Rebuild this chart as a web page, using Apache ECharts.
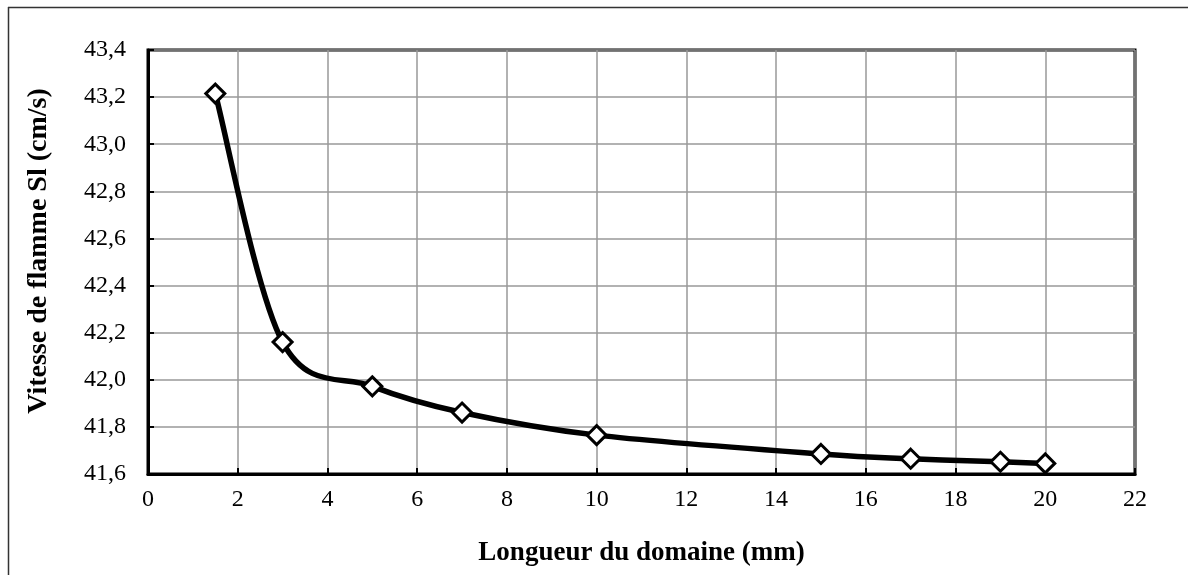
<!DOCTYPE html>
<html>
<head>
<meta charset="utf-8">
<script src="https://cdn.jsdelivr.net/npm/echarts@6/dist/echarts.min.js"></script>
<style>
  html, body { margin: 0; padding: 0; background: #fff; }
  #chart { width: 1188px; height: 575px; }
</style>
</head>
<body>
<div id="chart"></div>
<script>
// Domain length (mm) and laminar flame speed Sl (cm/s)
const longueurs = [1.5, 3, 5, 7, 10, 15, 17, 19, 20];
const vitesses = [43.215, 42.16, 41.972, 41.861, 41.765, 41.685, 41.665, 41.652, 41.645];

const xTitle = 'Longueur du domaine (mm)';
const yTitle = 'Vitesse de flamme Sl (cm/s)';

const serif = '"Liberation Serif", "Times New Roman", serif';
const fmt = v => v.toFixed(1).replace('.', ',');
const points = longueurs.map((x, i) => [x, vitesses[i]]);

// Smoothed curve through the points: cubic Bezier segments whose control
// points follow the neighbouring points (Catmull-Rom, factor 1/6), in pixels.
function renderCurve(params, api) {
  if (params.dataIndex !== 0) return;
  const p = points.map(d => api.coord(d));
  const n = p.length;
  let d = 'M' + p[0][0] + ' ' + p[0][1];
  for (let i = 0; i < n - 1; i++) {
    const p0 = p[Math.max(i - 1, 0)];
    const p1 = p[i];
    const p2 = p[i + 1];
    const p3 = p[Math.min(i + 2, n - 1)];
    const c1x = p1[0] + (p2[0] - p0[0]) / 6;
    const c1y = p1[1] + (p2[1] - p0[1]) / 6;
    const c2x = p2[0] - (p3[0] - p1[0]) / 6;
    const c2y = p2[1] - (p3[1] - p1[1]) / 6;
    d += ' C' + c1x + ' ' + c1y + ' ' + c2x + ' ' + c2y + ' ' + p2[0] + ' ' + p2[1];
  }
  return {
    type: 'path',
    shape: { pathData: d },
    style: { fill: 'none', stroke: '#000', lineWidth: 5.5, lineJoin: 'round', lineCap: 'round' }
  };
}

const chart = echarts.init(document.getElementById('chart'));
chart.setOption({
  animation: false,
  backgroundColor: '#fff',
  graphic: [
    { type: 'line', shape: { x1: 8, y1: 7.5, x2: 1188, y2: 7.5 }, style: { stroke: '#333', lineWidth: 1.5 } },
    { type: 'line', shape: { x1: 8.5, y1: 7, x2: 8.5, y2: 575 }, style: { stroke: '#333', lineWidth: 1.5 } }
  ],
  grid: {
    left: 148, right: 53, top: 50, bottom: 101,
    show: true, borderColor: '#000', borderWidth: 3, backgroundColor: 'transparent'
  },
  xAxis: {
    type: 'value', min: 0, max: 22, interval: 2,
    name: xTitle, nameLocation: 'middle', nameGap: 66,
    nameTextStyle: { fontFamily: serif, fontWeight: 'bold', fontSize: 27, color: '#000' },
    axisLine: { show: true, lineStyle: { color: '#000', width: 3 } },
    axisTick: { show: true, inside: true, length: 6, lineStyle: { color: '#000', width: 2 } },
    axisLabel: { fontFamily: serif, fontSize: 24, color: '#000', margin: 14 },
    splitLine: { show: true, lineStyle: { color: '#999', width: 1.5 } }
  },
  yAxis: {
    type: 'value', min: 41.6, max: 43.4, interval: 0.2,
    name: yTitle, nameLocation: 'middle', nameGap: 95,
    nameTextStyle: { fontFamily: serif, fontWeight: 'bold', fontSize: 28, color: '#000', padding: [0, 0, 0, 22] },
    axisLine: { show: true, lineStyle: { color: '#000', width: 3 } },
    axisTick: { show: true, inside: true, length: 6, lineStyle: { color: '#000', width: 2 } },
    axisLabel: { fontFamily: serif, fontSize: 24, color: '#000', margin: 22, formatter: fmt },
    splitLine: { show: true, lineStyle: { color: '#999', width: 1.5 } }
  },
  series: [
    {
      type: 'custom',
      renderItem: renderCurve,
      data: points,
      z: 4
    },
    {
      type: 'line',
      data: points,
      lineStyle: { width: 0, opacity: 0 },
      symbol: 'diamond', symbolSize: 19,
      itemStyle: { color: '#fff', borderColor: '#000', borderWidth: 3 },
      z: 5
    }
  ]
});
</script>
</body>
</html>
